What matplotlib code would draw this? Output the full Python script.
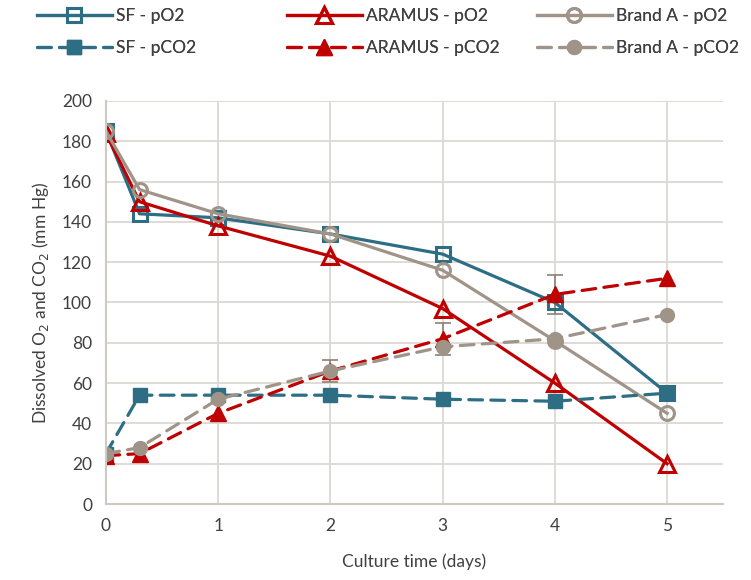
import matplotlib.pyplot as plt

plt.rcParams['font.family'] = ['Lato', 'DejaVu Sans']

days = [0, 0.3, 1, 2, 3, 4, 5]

sf_po2 = [185, 144, 142, 134, 124, 100, 55]
aramus_po2 = [184, 150, 138, 123, 97, 60, 20]
branda_po2 = [185, 156, 144, 134, 116, 81, 45]

sf_pco2 = [25, 54, 54, 54, 52, 51, 55]
aramus_pco2 = [24, 25, 45, 66, 82, 104, 112]
branda_pco2 = [25, 28, 52, 66, 78, 82, 94]

# error bars visible on the pCO2 series
err_days = [2, 3, 4]
err_vals = [66, 82, 104]
err_size = [5.5, 8, 9.5]

c_sf = '#2D6E85'
c_ar = '#C00000'
c_br = '#A09488'

fig = plt.figure(figsize=(7.51, 5.80), dpi=100)
ax = fig.add_axes([0.141, 0.131, 0.822, 0.695])

lw = 2.3
ms = 10
dash = dict(dashes=(4.3, 2.6), dash_capstyle='round')
h1, = ax.plot(days, sf_po2, '-', color=c_sf, lw=lw, marker='s', ms=ms,
              mfc='none', mew=2.2, label='SF - pO2')
h2, = ax.plot(days, aramus_po2, '-', color=c_ar, lw=lw, marker='^', ms=ms + 1,
              mfc='none', mew=2.2, label='ARAMUS - pO2')
h3, = ax.plot(days, branda_po2, '-', color=c_br, lw=lw, marker='o', ms=ms,
              mfc='none', mew=2.2, label='Brand A - pO2')
h4, = ax.plot(days, sf_pco2, color=c_sf, lw=lw, marker='s', ms=ms,
              label='SF - pCO2', **dash)
h5, = ax.plot(days, aramus_pco2, color=c_ar, lw=lw, marker='^', ms=ms + 1,
              label='ARAMUS - pCO2', **dash)
h6, = ax.plot(days, branda_pco2, color=c_br, lw=lw, marker='o', ms=ms,
              label='Brand A - pCO2', **dash)

ax.errorbar(err_days, err_vals, yerr=err_size, fmt='none', ecolor='#8C8074',
            elinewidth=1.2, capsize=6, capthick=1.2, zorder=1)

ax.set_xlim(0, 5.5)
ax.set_ylim(0, 200)
ax.set_xticks([0, 1, 2, 3, 4, 5])
ax.set_yticks(range(0, 201, 20))
ax.grid(True, color='#DCD8D3', lw=1.3)
ax.set_axisbelow(True)
for s in ['top', 'right']:
    ax.spines[s].set_visible(False)
for s in ['left', 'bottom']:
    ax.spines[s].set_color('#CFC9C3')
    ax.spines[s].set_linewidth(1.5)
ax.tick_params(length=0, labelsize=12.5, colors='#404040', pad=10)

ax.set_xlabel('Culture time (days)', fontsize=12.5, color='#404040', labelpad=14)
ax.set_ylabel('Dissolved O$_2$ and CO$_2$ (mm Hg)', fontsize=12.5,
              color='#404040', labelpad=8)

# one legend per brand so the columns sit where they do in the original
for hs, x0 in [((h1, h4), 37), ((h2, h5), 287), ((h3, h6), 537)]:
    leg = fig.legend(handles=list(hs), loc='upper left',
                     bbox_to_anchor=(x0 / 751, 1 - 8 / 580),
                     frameon=False, fontsize=12.5, handlelength=4.3,
                     handletextpad=0.25, borderpad=0, borderaxespad=0,
                     labelspacing=0.95, labelcolor='#404040')
    fig.add_artist(leg)

fig.savefig('out.png', dpi=100)
